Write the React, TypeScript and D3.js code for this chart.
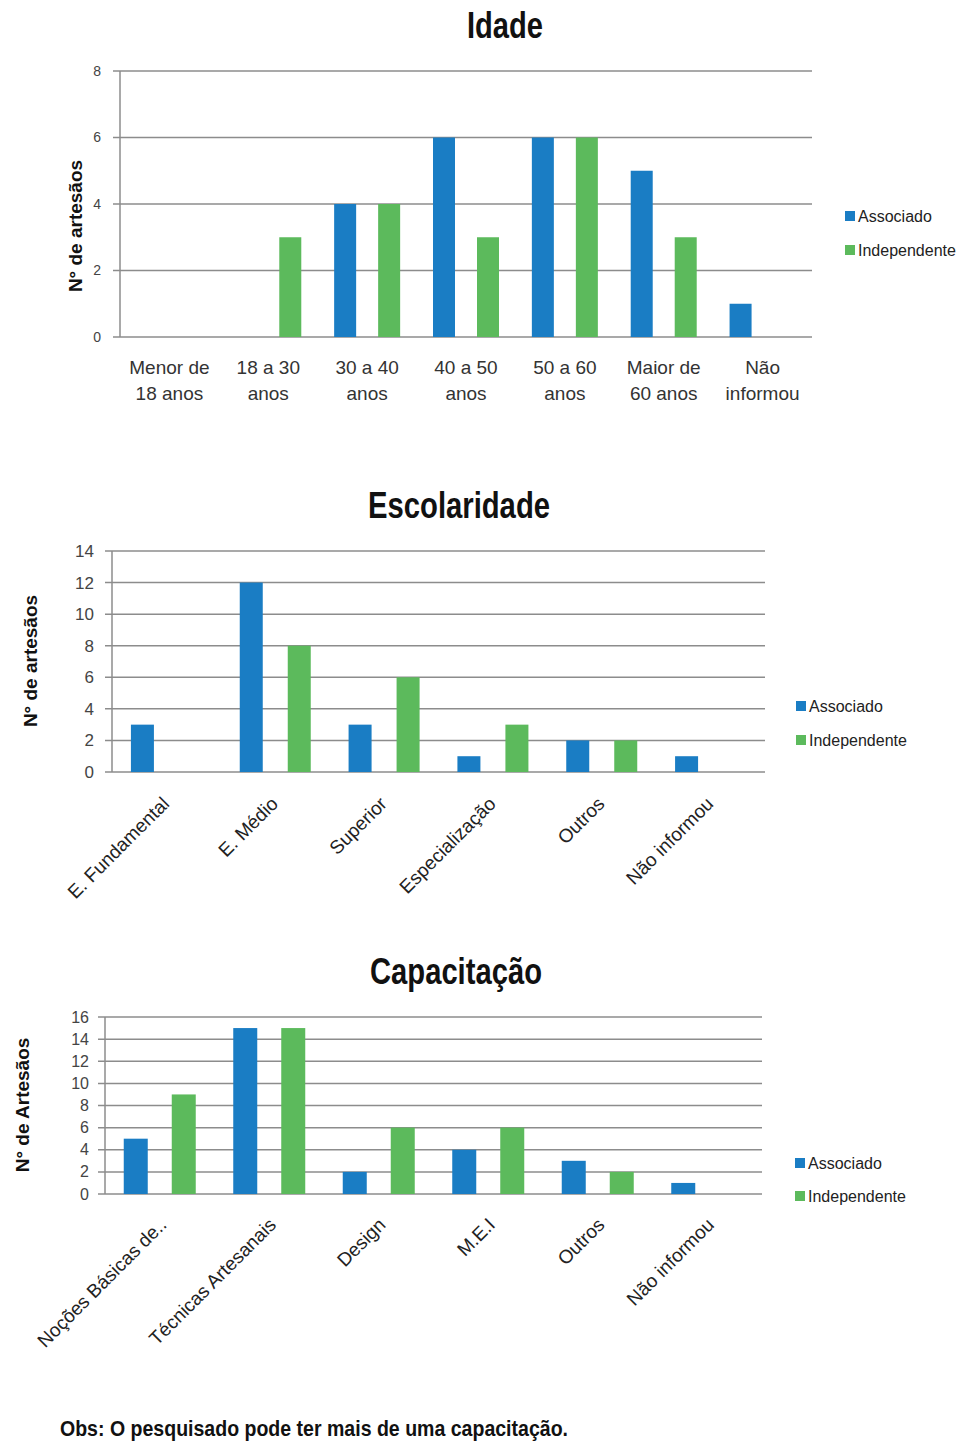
import React from "react";
import * as d3 from "d3";

const seriesNames = ["Associado", "Independente"];
const seriesColors = ["#1a7dc4", "#5cba5c"];

const idadeCategories = [
  ["Menor de", "18 anos"],
  ["18 a 30", "anos"],
  ["30 a 40", "anos"],
  ["40 a  50", "anos"],
  ["50 a 60", "anos"],
  ["Maior de", "60 anos"],
  ["Não", "informou"],
];
const idadeAssociado = [0, 0, 4, 6, 6, 5, 1];
const idadeIndependente = [0, 3, 4, 3, 6, 3, 0];
const idadeTicks = [0, 2, 4, 6, 8];

const escCategories = ["E. Fundamental", "E. Médio", "Superior", "Especialização", "Outros", "Não informou"];
const escAssociado = [3, 12, 3, 1, 2, 1];
const escIndependente = [0, 8, 6, 3, 2, 0];
const escTicks = [0, 2, 4, 6, 8, 10, 12, 14];

const capCategories = ["Noções Básicas de..", "Técnicas Artesanais", "Design", "M.E.I", "Outros", "Não informou"];
const capAssociado = [5, 15, 2, 4, 3, 1];
const capIndependente = [9, 15, 6, 6, 2, 0];
const capTicks = [0, 2, 4, 6, 8, 10, 12, 14, 16];

type Cfg = {
  title: string;
  titleX: number;
  titleY: number;
  titleLen: number;
  cats: (string | string[])[];
  a: number[];
  b: number[];
  ticks: number[];
  left: number;
  right: number;
  top: number;
  bottom: number;
  tickLabelX: number;
  tickFont: number;
  barW: number;
  barOff: number;
  rotated: boolean;
  labelDX: number;
  labelDY: number;
  ylabel: string;
  ylabelX: number;
  ylabelY: number;
  legendX: number;
  legendY: number[];
};

const FONT = "Liberation Sans, Arial, sans-serif";

function Chart({ c }: { c: Cfg }) {
  const max = c.ticks[c.ticks.length - 1];
  const y = d3.scaleLinear().domain([0, max]).range([c.bottom, c.top]);
  const x = d3
    .scaleBand<number>()
    .domain(c.cats.map((_, i) => i))
    .range([c.left, c.right]);
  const grid = "#8c8c8c";
  return (
    <g>
      <text
        x={c.titleX}
        y={c.titleY}
        textAnchor="middle"
        fontFamily={FONT}
        fontWeight="bold"
        fontSize={36}
        textLength={c.titleLen}
        lengthAdjust="spacingAndGlyphs"
        fill="#111"
      >
        {c.title}
      </text>
      {c.ticks.map((t) => (
        <g key={t}>
          <line x1={c.left - 7} x2={c.right} y1={y(t)} y2={y(t)} stroke={grid} strokeWidth={1.5} />
          <text
            x={c.tickLabelX}
            y={y(t)}
            dy="0.35em"
            textAnchor="end"
            fontFamily={FONT}
            fontSize={c.tickFont}
            fill="#444"
          >
            {t}
          </text>
        </g>
      ))}
      <line x1={c.left} x2={c.left} y1={c.top} y2={c.bottom} stroke={grid} strokeWidth={1.5} />
      {c.cats.map((_, i) => {
        const cx = (x(i) as number) + x.bandwidth() / 2;
        return (
          <g key={i}>
            {c.a[i] > 0 && (
              <rect
                x={cx - c.barOff - c.barW / 2}
                y={y(c.a[i])}
                width={c.barW}
                height={y(0) - y(c.a[i])}
                fill={seriesColors[0]}
              />
            )}
            {c.b[i] > 0 && (
              <rect
                x={cx + c.barOff - c.barW / 2}
                y={y(c.b[i])}
                width={c.barW}
                height={y(0) - y(c.b[i])}
                fill={seriesColors[1]}
              />
            )}
          </g>
        );
      })}
      {c.cats.map((lab, i) => {
        const cx = (x(i) as number) + x.bandwidth() / 2;
        if (!c.rotated) {
          const lines = lab as string[];
          return (
            <text key={i} textAnchor="middle" fontFamily={FONT} fontSize={19} fill="#333">
              {lines.map((l, j) => (
                <tspan key={j} x={cx} y={c.bottom + 37 + j * 26}>
                  {l}
                </tspan>
              ))}
            </text>
          );
        }
        const px = cx + c.labelDX;
        const py = c.bottom + c.labelDY;
        return (
          <text
            key={i}
            transform={`translate(${px},${py}) rotate(-45)`}
            textAnchor="end"
            fontFamily={FONT}
            fontSize={19}
            fill="#222"
          >
            {lab as string}
          </text>
        );
      })}
      <text
        transform={`translate(${c.ylabelX},${c.ylabelY}) rotate(-90)`}
        textAnchor="middle"
        dy="0.35em"
        fontFamily={FONT}
        fontWeight="bold"
        fontSize={19}
        fill="#111"
      >
        {c.ylabel}
      </text>
      {seriesNames.map((s, k) => (
        <g key={s}>
          <rect x={c.legendX} y={c.legendY[k] - 5} width={10} height={10} fill={seriesColors[k]} />
          <text
            x={c.legendX + 13}
            y={c.legendY[k]}
            dy="0.35em"
            fontFamily={FONT}
            fontSize={16}
            fill="#222"
          >
            {s}
          </text>
        </g>
      ))}
    </g>
  );
}

const charts: Cfg[] = [
  {
    title: "Idade",
    titleX: 505,
    titleY: 38,
    titleLen: 76,
    cats: idadeCategories,
    a: idadeAssociado,
    b: idadeIndependente,
    ticks: idadeTicks,
    left: 120,
    right: 812,
    top: 71,
    bottom: 337,
    tickLabelX: 101,
    tickFont: 14,
    barW: 22,
    barOff: 22,
    rotated: false,
    labelDX: 0,
    labelDY: 0,
    ylabel: "N° de artesãos",
    ylabelX: 75,
    ylabelY: 226,
    legendX: 845,
    legendY: [216, 250],
  },
  {
    title: "Escolaridade",
    titleX: 459,
    titleY: 518,
    titleLen: 182,
    cats: escCategories,
    a: escAssociado,
    b: escIndependente,
    ticks: escTicks,
    left: 112,
    right: 765,
    top: 551,
    bottom: 772,
    tickLabelX: 94,
    tickFont: 17,
    barW: 23,
    barOff: 24,
    rotated: true,
    labelDX: 4,
    labelDY: 33,
    ylabel: "N° de artesãos",
    ylabelX: 30,
    ylabelY: 661,
    legendX: 796,
    legendY: [706, 740],
  },
  {
    title: "Capacitação",
    titleX: 456,
    titleY: 984,
    titleLen: 172,
    cats: capCategories,
    a: capAssociado,
    b: capIndependente,
    ticks: capTicks,
    left: 105,
    right: 762,
    top: 1017,
    bottom: 1194,
    tickLabelX: 89,
    tickFont: 16,
    barW: 24,
    barOff: 24,
    rotated: true,
    labelDX: 8,
    labelDY: 32,
    ylabel: "N° de Artesãos",
    ylabelX: 22,
    ylabelY: 1105,
    legendX: 795,
    legendY: [1163, 1196],
  },
];

export default function App() {
  return (
    <svg
      width={960}
      height={1444}
      style={{ position: "absolute", left: 0, top: 0, background: "#fff" }}
    >
      <rect width={960} height={1444} fill="#fff" />
      {charts.map((c) => (
        <Chart key={c.title} c={c} />
      ))}
      <text
        x={60}
        y={1436}
        fontFamily={FONT}
        fontWeight="bold"
        fontSize={22}
        textLength={508}
        lengthAdjust="spacingAndGlyphs"
        fill="#111"
      >
        Obs: O pesquisado pode ter mais de uma capacitação.
      </text>
    </svg>
  );
}
